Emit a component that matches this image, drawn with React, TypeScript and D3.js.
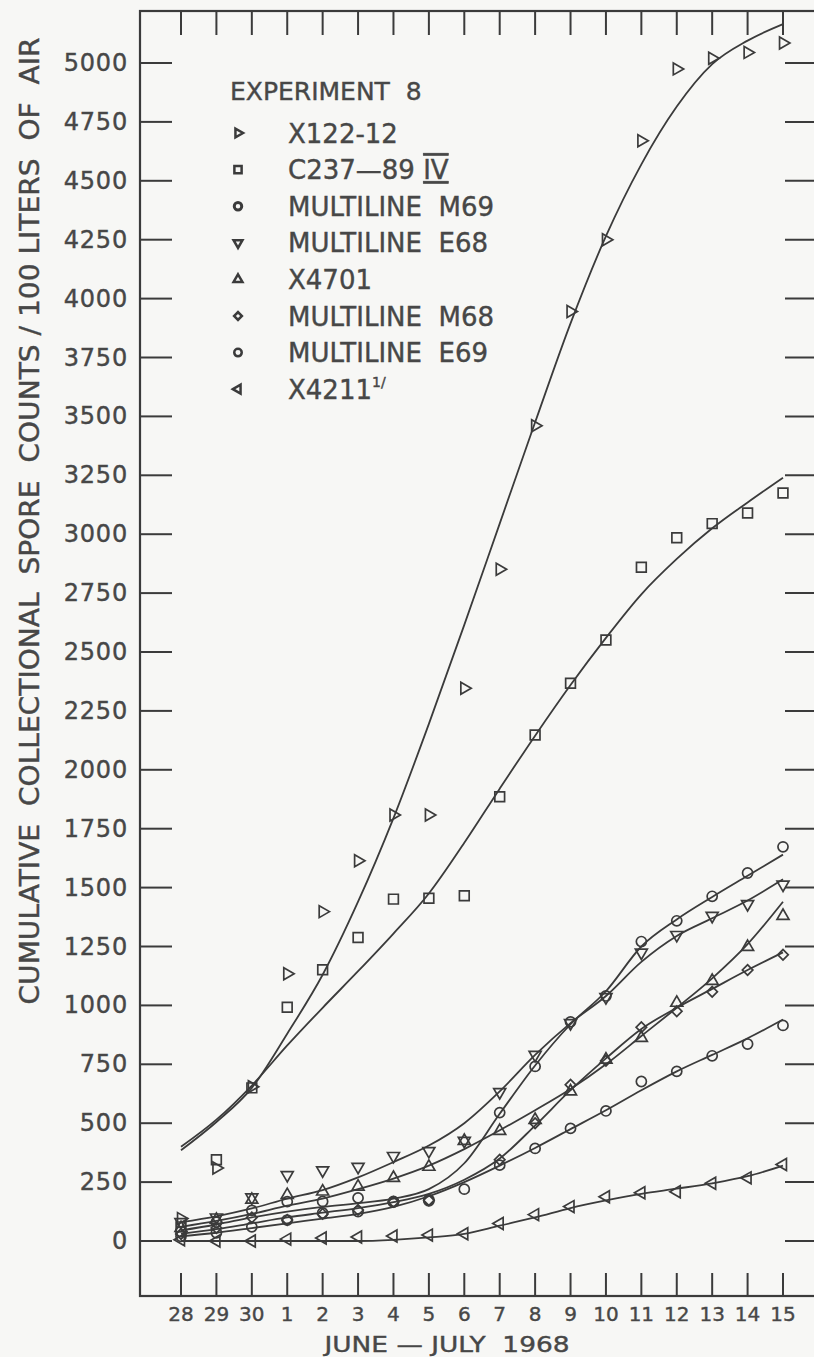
import React from 'react';
import * as d3 from 'd3';

// June 28 – July 15, 1968
const days = ['28', '29', '30', '1', '2', '3', '4', '5', '6', '7', '8', '9', '10', '11', '12', '13', '14', '15'];
const yTicks = [0, 250, 500, 750, 1000, 1250, 1500, 1750, 2000, 2250, 2500, 2750, 3000, 3250, 3500, 3750, 4000, 4250, 4500, 4750, 5000];

// plotted counts (null = no symbol on that day) and the hand-fitted curve read at each day
const x122Counts = [95, 310, 655, 1134, 1398, 1614, 1808, 1808, 2346, 2851, 3460, 3945, 4250, 4670, 4975, 5020, 5045, 5085];
const x122Fit = [385, 505, 650, 880, 1130, 1440, 1795, 2195, 2615, 3045, 3475, 3895, 4265, 4570, 4815, 4995, 5095, 5165];
const c237Counts = [60, 345, 650, 992, 1151, 1288, 1451, 1455, 1465, 1886, 2148, 2367, 2551, 2860, 2985, 3045, 3090, 3175];
const c237Fit = [400, 515, 660, 830, 990, 1145, 1305, 1475, 1690, 1920, 2145, 2360, 2560, 2745, 2895, 3025, 3135, 3240];
const m69Counts = [40, 80, 130, 167, 168, 183, 168, 175, null, 545, 741, 930, 1040, 1271, 1359, 1463, 1562, 1673];
const m69Fit = [45, 70, 100, 125, 145, 160, 180, 220, 330, 540, 745, 920, 1060, 1250, 1365, 1460, 1550, 1640];
const e68Counts = [80, 100, 185, 280, 300, 315, 361, 382, 425, 632, 790, 925, 1035, 1224, 1299, 1380, 1430, 1513];
const e68Fit = [80, 105, 138, 180, 216, 270, 335, 405, 500, 635, 790, 925, 1040, 1185, 1295, 1370, 1445, 1535];
const x4701Counts = [55, 90, 175, 195, 210, 231, 268, 315, 425, 467, 514, 635, 770, 862, 1011, 1104, 1248, 1380];
const x4701Fit = [60, 85, 115, 150, 180, 220, 265, 320, 390, 470, 555, 645, 750, 870, 990, 1115, 1260, 1440];
const m68Counts = [30, 55, 100, 89, 115, 132, 166, 173, null, 345, 500, 663, 765, 907, 975, 1058, 1150, 1215];
const m68Fit = [30, 50, 75, 100, 120, 140, 165, 200, 260, 350, 490, 640, 775, 900, 990, 1070, 1150, 1225];
const e69Counts = [20, 35, 60, 89, 119, 125, 165, 170, 220, 322, 393, 478, 552, 677, 720, 786, 836, 915];
const e69Fit = [20, 35, 55, 75, 95, 115, 145, 190, 250, 320, 395, 475, 555, 640, 720, 790, 860, 940];
const x4211Counts = [5, 0, 0, 8, 13, 17, 21, 25, 31, 74, 112, 146, 188, 205, 209, 245, 268, 325];
const x4211Fit = [0, 0, 0, 0, 0, 0, 5, 15, 30, 65, 100, 140, 172, 200, 222, 245, 275, 320];

const legendNames = ['X122-12', 'C237—89 ', 'MULTILINE  M69', 'MULTILINE  E68', 'X4701', 'MULTILINE  M68', 'MULTILINE  E69', 'X4211'];
const symbolKinds = ['right', 'square', 'circle', 'down', 'up', 'diamond', 'circle', 'left'];

const series = [
  { counts: x122Counts, fit: x122Fit },
  { counts: c237Counts, fit: c237Fit },
  { counts: m69Counts, fit: m69Fit },
  { counts: e68Counts, fit: e68Fit },
  { counts: x4701Counts, fit: x4701Fit },
  { counts: m68Counts, fit: m68Fit },
  { counts: e69Counts, fit: e69Fit },
  { counts: x4211Counts, fit: x4211Fit },
].map((s, i) => ({ ...s, name: legendNames[i], kind: symbolKinds[i] }));

const INK = '#3b3b3b';
const TEXT = '#474747';
const FONT = '"DejaVu Sans", sans-serif';

function symbolPath(kind: string, scale: number) {
  switch (kind) {
    case 'square':
      return { d: d3.symbol(d3.symbolSquare, 95 * scale)(), rot: 0 };
    case 'circle':
      return { d: d3.symbol(d3.symbolCircle, 80 * scale)(), rot: 0 };
    case 'diamond':
      return { d: d3.symbol(d3.symbolSquare, 55 * scale)(), rot: 45 };
    case 'right':
      return { d: d3.symbol(d3.symbolTriangle, 62 * scale)(), rot: 90 };
    case 'down':
      return { d: d3.symbol(d3.symbolTriangle, 62 * scale)(), rot: 180 };
    case 'left':
      return { d: d3.symbol(d3.symbolTriangle, 62 * scale)(), rot: -90 };
    default:
      return { d: d3.symbol(d3.symbolTriangle, 62 * scale)(), rot: 0 };
  }
}

export default function App() {
  const frame = { left: 140, top: 11, right: 822, bottom: 1296 };
  const x = d3.scalePoint<string>().domain(days).range([181, 783]);
  const y = d3.scaleLinear([0, 5000], [1241, 63]);

  const line = d3
    .line<number>()
    .x((_, i) => x(days[i]) as number)
    .y((v) => y(v))
    .curve(d3.curveMonotoneX);

  return (
    <svg
      width={814}
      height={1357}
      style={{ position: 'absolute', left: 0, top: 0, background: '#f7f7f5' }}
    >
      <rect x={0} y={0} width={814} height={1357} fill="#f7f7f5" />

      {/* frame */}
      <rect
        x={frame.left}
        y={frame.top}
        width={frame.right - frame.left}
        height={frame.bottom - frame.top}
        fill="none"
        stroke={INK}
        strokeWidth={2.2}
      />

      {/* ticks on all four sides */}
      <g stroke={INK} strokeWidth={2}>
        {yTicks.map((t) => (
          <g key={t}>
            <line x1={frame.left} x2={172} y1={y(t)} y2={y(t)} />
            <line x1={785} x2={frame.right} y1={y(t)} y2={y(t)} />
          </g>
        ))}
        {days.map((d) => (
          <g key={d}>
            <line x1={x(d)} x2={x(d)} y1={frame.top} y2={frame.top + 24} />
            <line x1={x(d)} x2={x(d)} y1={frame.bottom - 23} y2={frame.bottom} />
          </g>
        ))}
      </g>

      {/* tick labels */}
      <g fill={TEXT} stroke={TEXT} strokeWidth={0.4} fontFamily={FONT} fontSize={24}>
        {yTicks.map((t) => (
          <text key={t} x={128} y={y(t)} textAnchor="end" dominantBaseline="central" letterSpacing={0.8}>
            {t}
          </text>
        ))}
      </g>
      <g fill={TEXT} stroke={TEXT} strokeWidth={0.4} fontFamily={FONT} fontSize={20}>
        {days.map((d) => (
          <text key={d} x={x(d)} y={1321} textAnchor="middle">
            {d}
          </text>
        ))}
      </g>
      <text
        x={447}
        y={1352}
        textAnchor="middle"
        fill={TEXT}
        stroke={TEXT}
        strokeWidth={0.4}
        fontFamily={FONT}
        fontSize={22}
        textLength={245}
        lengthAdjust="spacingAndGlyphs"
        style={{ whiteSpace: 'pre' }}
      >
        {'JUNE — JULY  1968'}
      </text>
      <text
        transform="translate(29,521) rotate(-90)"
        textAnchor="middle"
        dominantBaseline="central"
        fill={TEXT}
        stroke={TEXT}
        strokeWidth={0.4}
        fontFamily={FONT}
        fontSize={27}
        textLength={967}
        lengthAdjust="spacingAndGlyphs"
        style={{ whiteSpace: 'pre' }}
      >
        {'CUMULATIVE  COLLECTIONAL  SPORE  COUNTS / 100 LITERS  OF  AIR'}
      </text>

      {/* fitted curves */}
      <g fill="none" stroke={INK} strokeWidth={1.8}>
        {series.map((s) => (
          <path key={s.name} d={line(s.fit) || ''} />
        ))}
      </g>

      {/* plotted counts */}
      <g fill="none" stroke={INK} strokeWidth={1.7}>
        {series.map((s) => {
          const sym = symbolPath(s.kind, 1);
          return s.counts.map((v, i) =>
            v === null ? null : (
              <path
                key={s.name + i}
                d={sym.d || ''}
                transform={`translate(${x(days[i])},${y(v)}) rotate(${sym.rot})`}
              />
            ),
          );
        })}
      </g>

      {/* legend */}
      <g fill={TEXT} stroke={TEXT} strokeWidth={0.4} fontFamily={FONT} fontSize={26}>
        <text x={230} y={100} fontSize={25} style={{ whiteSpace: 'pre' }}>
          {'EXPERIMENT  8'}
        </text>
        {series.map((s, i) => {
          const cy = 133 + i * 36.6;
          const sym = symbolPath(s.kind, 0.55);
          return (
            <g key={s.name}>
              <path
                d={sym.d || ''}
                transform={`translate(238,${cy}) rotate(${sym.rot})`}
                fill="none"
                stroke={INK}
                strokeWidth={i === 2 ? 3 : 2.5}
              />
              <text x={288} y={cy + 9.5} style={{ whiteSpace: 'pre' }}>
                {s.name}
                {i === 1 ? (
                  <tspan textDecoration="underline overline">IV</tspan>
                ) : null}
                {i === 7 ? (
                  <tspan fontSize={14} dy={-12}>
                    1/
                  </tspan>
                ) : null}
              </text>
            </g>
          );
        })}
      </g>
    </svg>
  );
}
